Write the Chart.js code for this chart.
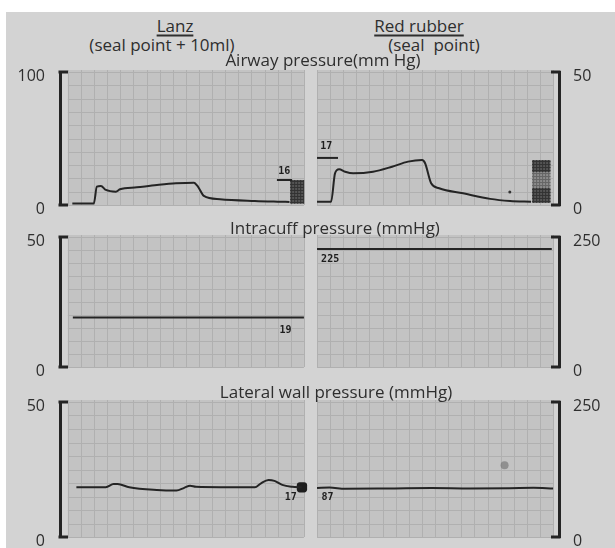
<!DOCTYPE html>
<html lang="en">
<head>
<meta charset="UTF-8">
<title>Airway, intracuff and lateral wall pressure</title>
<script src="https://cdn.jsdelivr.net/npm/chart.js"></script>
<style>
  body { margin: 0; width: 615px; height: 548px; overflow: hidden; background: #fff; position: relative; }
  #paper { position: absolute; left: 6px; top: 12px; right: 0; bottom: 0; background: #d3d3d3; }
  .txt { position: absolute; transform: translate(-50%, -50%); font-family: "Open Sans", sans-serif;
         font-size: 17px; color: #2e2e2e; white-space: pre; line-height: 1; z-index: 2; }
  .ul { text-decoration: underline; text-underline-offset: 3px; text-decoration-thickness: 1.5px; }
  canvas { position: absolute; left: 0; z-index: 1; }
</style>
</head>
<body>
<div id="paper"></div>
<div class="txt ul" style="left:175px; top:25px">Lanz</div>
<div class="txt" style="left:162px; top:44px">(seal point + 10ml)</div>
<div class="txt ul" style="left:419px; top:25px">Red rubber</div>
<div class="txt" style="left:434px; top:44px">(seal  point)</div>
<div class="txt" id="t0" style="left:323px; top:59px"></div>
<div class="txt" id="t1" style="left:335px; top:227px"></div>
<div class="txt" id="t2" style="left:336px; top:391px"></div>
<canvas id="row0" width="615" height="159" style="top:60px"></canvas>
<canvas id="row1" width="615" height="156" style="top:225px"></canvas>
<canvas id="row2" width="615" height="161" style="top:390px"></canvas>

<script>
// --- data (time in grid squares, 18 squares per panel) ---
const rowTitles = ['Airway pressure(mm Hg)', 'Intracuff pressure (mmHg)', 'Lateral wall pressure (mmHg)'];
const leftMax = [100, 50, 50];    // Lanz scale
const rightMax = [50, 250, 250];  // Red rubber scale

const airwayLanzT = [0.34, 1.98, 2.21, 2.52, 2.9, 3.66, 3.97, 5.26, 6.79, 8.24, 9.61, 9.92, 10.37, 11.6, 14.26, 16.0, 16.9];
const airwayLanzP = [1.2, 1.2, 13.8, 14.3, 11.3, 10, 11.8, 13.3, 15, 16.3, 16.8, 13.8, 6.8, 4.3, 3, 2.5, 2.3];
const airwayRedT = [0, 1.07, 1.37, 1.68, 2.14, 2.75, 4.27, 5.72, 6.94, 8.01, 8.24, 8.7, 9.31, 11.14, 13.2, 14.72, 16.32];
const airwayRedP = [1.2, 1.2, 11.9, 13.4, 12.5, 11.9, 12.5, 14.4, 16.3, 16.9, 15.7, 8.2, 6.3, 4.4, 2.3, 1.5, 1.2];

const cuffLanzT = [0.38, 18];
const cuffLanzP = [19, 19];
const cuffRedT = [0, 17.9];
const cuffRedP = [227, 227];

const wallLanzT = [0.65, 2.89, 3.49, 3.79, 4.68, 6.78, 8.28, 8.87, 9.32, 9.77, 14.26, 14.7, 15.3, 15.75, 16.35, 17.1, 17.85];
const wallLanzP = [18.4, 18.4, 19.6, 19.6, 18.4, 17.4, 17.2, 18.2, 19.0, 18.6, 18.4, 19.8, 21.1, 20.8, 19.3, 18.6, 18.4];
const wallRedT = [0, 0.95, 2.14, 5.72, 8.72, 11.7, 14.7, 16.5, 18];
const wallRedP = [90.7, 91.5, 89.3, 90, 90.7, 90, 90.4, 91, 89.6];

// printed readouts: [text, time, pressure, panel]
const airwayReadouts = [['16', 16.5, 25.2, 'L'], ['17', 0.7, 22.2, 'R']];
const cuffReadouts = [['19', 16.6, 14.2, 'L'], ['225', 1.0, 206, 'R']];
const wallReadouts = [['17', 17.0, 14.8, 'L'], ['87', 0.8, 74, 'R']];

// readout bars: [t0, t1, pressure]
const airwayLanzMark = [15.94, 17.1, 18.8];
const airwayRedMark = [0, 1.6, 17.7];

// calibration blocks: [t0, t1, p0, p1, dark?]
const airwayLanzBlocks = [[16.95, 18.0, 1.0, 18.8, 1]];
const airwayRedBlocks = [[16.4, 17.8, 12.4, 16.9, 1], [16.4, 17.8, 6.4, 12.4, 0], [16.4, 17.8, 0.8, 6.4, 1]];

const RIGHT_OFFSET = 19;  // right panel starts one square after the left one
const GRID_X = 18;
const INK = '#242424';

document.getElementById('t0').textContent = rowTitles[0];
document.getElementById('t1').textContent = rowTitles[1];
document.getElementById('t2').textContent = rowTitles[2];

function pts(T, P, off) {
  return T.map((t, i) => ({ x: t + off, y: P[i] }));
}

function trace(T, P, off, axis) {
  return {
    data: pts(T, P, off), yAxisID: axis, borderColor: INK, borderWidth: 2,
    pointRadius: 0, cubicInterpolationMode: 'monotone', fill: false
  };
}

function paperPlugin(extra) {
  return {
    id: 'paperGrid',
    beforeDatasetsDraw(chart) {
      const { ctx, scales: { x, yL } } = chart;
      ctx.save();
      [0, RIGHT_OFFSET].forEach(off => {
        const x0 = x.getPixelForValue(off), x1 = x.getPixelForValue(off + GRID_X);
        ctx.fillStyle = '#c3c3c3';
        ctx.fillRect(x0, yL.top - 2, x1 - x0, yL.bottom - yL.top + 2);
        ctx.strokeStyle = '#b0b0b0';
        ctx.lineWidth = 1;
        ctx.beginPath();
        for (let i = 0; i <= GRID_X; i++) {
          const px = Math.round(x.getPixelForValue(off + i)) + 0.5;
          ctx.moveTo(px, yL.top - 2);
          ctx.lineTo(px, yL.bottom);
        }
        for (let j = 0; j <= 10; j++) {
          const py = Math.round(yL.getPixelForValue(yL.max * j / 10)) + 0.5;
          ctx.moveTo(x0, py);
          ctx.lineTo(x1, py);
        }
        ctx.stroke();
      });
      (extra.blocks || []).forEach(([blocks, off, sc]) => {
        const y = chart.scales[sc];
        blocks.forEach(b => {
          const bx0 = x.getPixelForValue(b[0] + off), bx1 = x.getPixelForValue(b[1] + off);
          const by0 = y.getPixelForValue(b[3]), by1 = y.getPixelForValue(b[2]);
          ctx.fillStyle = b[4] ? '#555' : '#8c8c8c';
          ctx.fillRect(bx0, by0, bx1 - bx0, by1 - by0);
          ctx.strokeStyle = b[4] ? '#333' : '#666';
          ctx.lineWidth = 1;
          ctx.beginPath();
          for (let px = bx0 + 1.5; px < bx1; px += 3) { ctx.moveTo(px, by0); ctx.lineTo(px, by1); }
          for (let py = by0 + 1.5; py < by1; py += 3) { ctx.moveTo(bx0, py); ctx.lineTo(bx1, py); }
          ctx.stroke();
        });
      });
      ctx.restore();
    },
    afterDraw(chart) {
      const { ctx, chartArea: a, scales: { x } } = chart;
      ctx.save();
      // bracket ends
      ctx.strokeStyle = INK;
      ctx.lineWidth = 3;
      ctx.beginPath();
      ctx.moveTo(a.left - 1.5, a.top); ctx.lineTo(a.left + 8, a.top);
      ctx.moveTo(a.left - 1.5, a.bottom); ctx.lineTo(a.left + 8, a.bottom);
      ctx.moveTo(a.right + 1.5, a.top); ctx.lineTo(a.right - 8, a.top);
      ctx.moveTo(a.right + 1.5, a.bottom); ctx.lineTo(a.right - 8, a.bottom);
      ctx.stroke();
      // readouts
      ctx.fillStyle = '#1e1e1e';
      ctx.font = 'bold 10px "DejaVu Sans Mono"';
      ctx.textAlign = 'center';
      ctx.textBaseline = 'middle';
      extra.readouts.forEach(([txt, t, p, side]) => {
        const off = side === 'L' ? 0 : RIGHT_OFFSET;
        const y = chart.scales[side === 'L' ? 'yL' : 'yR'];
        ctx.fillText(txt, x.getPixelForValue(t + off), y.getPixelForValue(p));
      });
      ctx.restore();
    }
  };
}

function yAxis(pos, max) {
  return {
    type: 'linear', position: pos, min: 0, max: max,
    grid: { display: false, drawTicks: false },
    border: { display: true, color: INK, width: 3 },
    ticks: {
      stepSize: max / 10, autoSkip: false, padding: pos === 'left' ? 15 : 14, labelOffset: 4,
      color: '#2e2e2e', font: { family: 'Open Sans', size: 16 },
      callback: v => (v === 0 || v === max) ? String(v) : ''
    },
    afterFit: s => {
      s.width = pos === 'left' ? 60 : 56;
      s.paddingTop = 0;
      s.paddingBottom = 0;
    }
  };
}

function makeRow(id, r, datasets, extra) {
  new Chart(document.getElementById(id), {
    type: 'line',
    data: { datasets: datasets },
    options: {
      responsive: false, animation: false,
      layout: { padding: { top: 12, bottom: 14, left: 0, right: 0 } },
      plugins: { legend: { display: false }, tooltip: { enabled: false } },
      scales: {
        x: { type: 'linear', display: false, min: -0.6, max: 37.45 },
        yL: yAxis('left', leftMax[r]),
        yR: yAxis('right', rightMax[r])
      }
    },
    plugins: [paperPlugin(extra)]
  });
}

makeRow('row0', 0, [
  trace(airwayLanzT, airwayLanzP, 0, 'yL'),
  trace(airwayRedT, airwayRedP, RIGHT_OFFSET, 'yR'),
  trace(airwayLanzMark.slice(0, 2), [airwayLanzMark[2], airwayLanzMark[2]], 0, 'yL'),
  trace(airwayRedMark.slice(0, 2), [airwayRedMark[2], airwayRedMark[2]], RIGHT_OFFSET, 'yR'),
  { data: [{ x: 14.7 + RIGHT_OFFSET, y: 4.9 }], yAxisID: 'yR', showLine: false,
    pointRadius: 1.5, backgroundColor: '#333', borderWidth: 0 }
], { readouts: airwayReadouts, blocks: [[airwayLanzBlocks, 0, 'yL'], [airwayRedBlocks, RIGHT_OFFSET, 'yR']] });

makeRow('row1', 1, [
  trace(cuffLanzT, cuffLanzP, 0, 'yL'),
  trace(cuffRedT, cuffRedP, RIGHT_OFFSET, 'yR')
], { readouts: cuffReadouts });

makeRow('row2', 2, [
  trace(wallLanzT, wallLanzP, 0, 'yL'),
  trace(wallRedT, wallRedP, RIGHT_OFFSET, 'yR'),
  { data: [{ x: wallLanzT[wallLanzT.length - 1], y: wallLanzP[wallLanzP.length - 1] }], yAxisID: 'yL',
    showLine: false, pointStyle: 'rectRounded', pointRadius: 6, backgroundColor: '#1e1e1e', borderWidth: 0 },
  { data: [{ x: 14.3 + RIGHT_OFFSET, y: 133 }], yAxisID: 'yR', showLine: false,
    pointRadius: 4, backgroundColor: 'rgba(110,110,110,0.6)', borderWidth: 0 }
], { readouts: wallReadouts });
</script>
</body>
</html>
